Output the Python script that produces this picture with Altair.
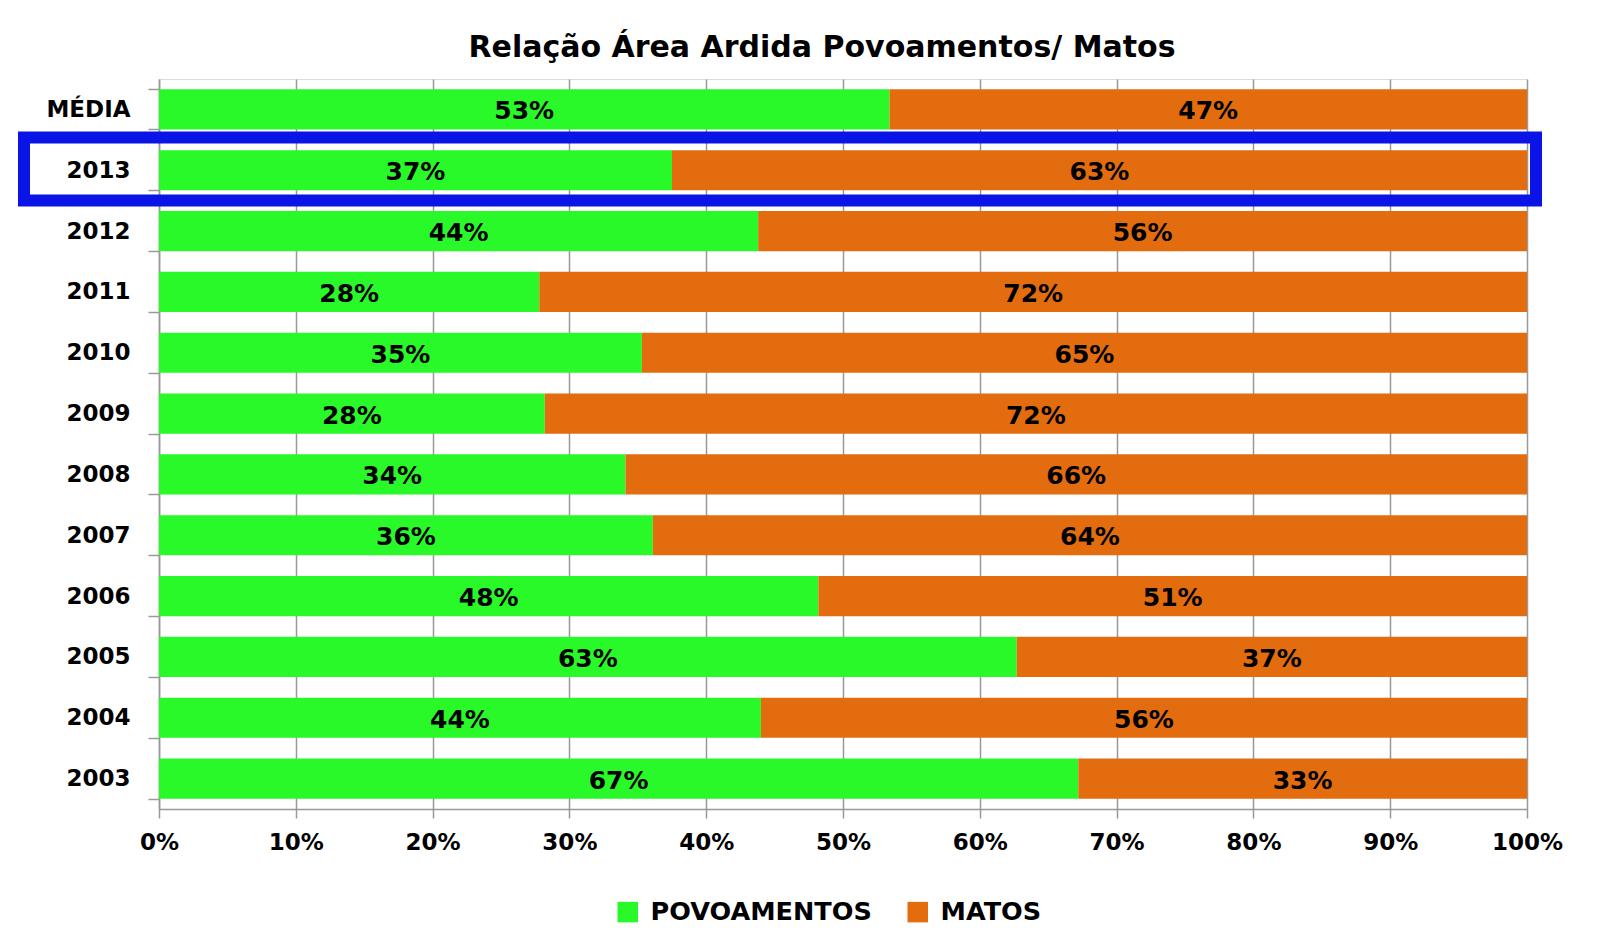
import altair as alt
import pandas as pd

categories = ["MÉDIA", "2013", "2012", "2011", "2010", "2009", "2008", "2007", "2006", "2005", "2004", "2003"]
povoamentos = [53.4, 37.5, 43.8, 27.8, 35.3, 28.2, 34.1, 36.1, 48.2, 62.7, 44.0, 67.2]
matos = [46.6, 62.5, 56.2, 72.2, 64.7, 71.8, 65.9, 63.9, 51.8, 37.3, 56.0, 32.8]
povo_labels = ["53%", "37%", "44%", "28%", "35%", "28%", "34%", "36%", "48%", "63%", "44%", "67%"]
matos_labels = ["47%", "63%", "56%", "72%", "65%", "72%", "66%", "64%", "51%", "37%", "56%", "33%"]
series = ["POVOAMENTOS", "MATOS"]
colors = ["#29F929", "#E26C0E"]
x_ticks = [0, 10, 20, 30, 40, 50, 60, 70, 80, 90, 100]

rows = []
for i, c in enumerate(categories):
    rows.append({"cat": c, "serie": series[0], "start": 0.0, "end": povoamentos[i],
                 "mid": povoamentos[i] / 2, "label": povo_labels[i], "ord": 0})
    rows.append({"cat": c, "serie": series[1], "start": povoamentos[i],
                 "end": povoamentos[i] + matos[i],
                 "mid": povoamentos[i] + matos[i] / 2, "label": matos_labels[i], "ord": 1})
df = pd.DataFrame(rows)

FONT = "DejaVu Sans"

y_enc = alt.Y("cat:N", sort=categories,
              scale=alt.Scale(paddingInner=0.34, paddingOuter=0.17),
              axis=alt.Axis(title=None, labelFont=FONT, labelFontWeight="bold",
                            labelFontSize=23, labelColor="black", tickSize=11,
                            tickColor="#999999", domainColor="#999999", tickWidth=1.5,
                            domainWidth=1.5, labelPadding=18, tickBand="extent", grid=False))
x_scale = alt.Scale(domain=[0, 100], nice=False)

bars = alt.Chart(df).mark_bar().encode(
    y=y_enc,
    x=alt.X("start:Q", scale=x_scale,
            axis=alt.Axis(title=None, values=x_ticks, labelExpr="datum.value + '%'",
                          labelFont=FONT, labelFontWeight="bold", labelFontSize=23,
                          labelColor="black", tickSize=9, tickColor="#999999",
                          tickWidth=1.5, domainColor="#999999", domainWidth=1.5,
                          grid=True, gridColor="#999999", gridWidth=1.5,
                          labelFlush=False, labelOverlap=False, labelPadding=13)),
    x2="end:Q",
    color=alt.Color("serie:N", sort=series,
                    scale=alt.Scale(domain=series, range=colors),
                    legend=alt.Legend(title=None, orient="none", direction="horizontal",
                                      legendX=456, legendY=820, symbolType="square",
                                      symbolSize=420, symbolStrokeWidth=0,
                                      labelFont=FONT, labelFontWeight="bold",
                                      labelFontSize=25.5, labelColor="black",
                                      labelLimit=0, labelOffset=10, columnPadding=33,
                                      padding=0)),
    order=alt.Order("ord:Q"),
)

labels = alt.Chart(df).mark_text(font=FONT, fontWeight="bold", fontSize=25,
                                 color="black", baseline="middle", dy=2).encode(
    y=alt.Y("cat:N", sort=categories),
    x=alt.X("mid:Q", scale=x_scale),
    text="label:N",
)

box = alt.Chart(alt.Data(values=[{}])).mark_rect(
    fillOpacity=0, stroke="#0A14E6", strokeWidth=12).encode(
    x=alt.value(-135), x2=alt.value(1377), y=alt.value(58.5), y2=alt.value(121.5))

chart = alt.layer(bars, labels, box).properties(
    width=1368, height=730,
    autosize=alt.AutoSizeParams(type="none"),
    padding={"left": 151, "top": 71, "right": 80, "bottom": 118},
    title=alt.TitleParams("Relação Área Ardida Povoamentos/ Matos", font=FONT,
                          fontWeight="bold", fontSize=30, color="black",
                          anchor="middle", frame="group", dx=-21, offset=5),
).configure_view(stroke="#A0A0A0", strokeWidth=0).configure(background="white")

chart.save("out.html", embed_options={"renderer": "svg", "actions": False})
